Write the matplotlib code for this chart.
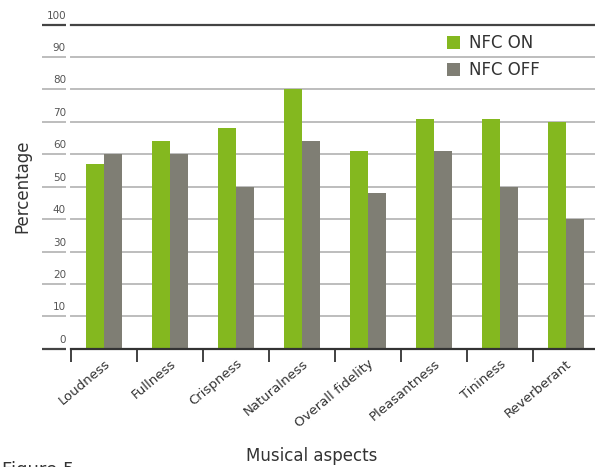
import matplotlib
matplotlib.use("Agg")
import matplotlib.pyplot as plt
import matplotlib.transforms as mtransforms
import numpy as np

categories = ["Loudness", "Fullness", "Crispness", "Naturalness", "Overall fidelity",
              "Pleasantness", "Tininess", "Reverberant"]
nfc_on = [57, 64, 68, 80, 61, 71, 71, 70]
nfc_off = [60, 60, 50, 64, 48, 61, 50, 40]
yticks = [0, 10, 20, 30, 40, 50, 60, 70, 80, 90, 100]

GREEN = "#84b81f"
GRAY = "#7f7e74"
FONT = "DejaVu Sans"

fig = plt.figure(figsize=(5.95, 4.67), dpi=100)
W, H = 595, 467
ax = fig.add_axes([71 / W, (H - 348.7) / H, 528 / W, (348.7 - 24.7) / H])

x = np.arange(len(categories))
bw = 0.28
ax.bar(x - bw / 2, nfc_on, width=bw, color=GREEN, label="NFC ON", zorder=2)
ax.bar(x + bw / 2, nfc_off, width=bw, color=GRAY, label="NFC OFF", zorder=2)

ax.set_xlim(-0.5, 7.5)
ax.set_ylim(0, 100)

for s in ["left", "right", "top"]:
    ax.spines[s].set_visible(False)
ax.spines["bottom"].set_color("#333333")
ax.spines["bottom"].set_linewidth(1.6)
ax.spines["bottom"].set_zorder(3)

# gridlines
for v in yticks[1:]:
    col = "#444444" if v == 100 else "#bdbdbd"
    ax.axhline(v, color=col, lw=1.6 if v == 100 else 1.4, zorder=1, clip_on=False)

# y stubs and labels
trans = mtransforms.blended_transform_factory(ax.transAxes, ax.transData)
off = mtransforms.offset_copy(trans, fig=fig, x=0, y=4, units="dots")
for v in yticks:
    col = "#444444" if v in (0, 100) else "#bdbdbd"
    ax.plot([-0.055, -0.0095], [v, v], transform=trans, color=col,
            lw=1.6 if v in (0, 100) else 1.4, clip_on=False, solid_capstyle="butt")
    ax.text(-0.0095, v, str(v), transform=off, ha="right", va="bottom",
            fontsize=7.5, color="#555555", family=FONT)
ax.set_yticks([])

# x ticks
ax.set_xticks(np.arange(len(categories) + 1) - 0.5, minor=True)
ax.tick_params(axis="x", which="minor", length=9, width=1.3, color="#333333", direction="out")
ax.set_xticks(x)
ax.set_xticklabels(categories, rotation=40, ha="right", va="top", rotation_mode="anchor",
                   fontsize=9.5, color="#333333", family=FONT)
ax.tick_params(axis="x", which="major", length=0, pad=6)

ax.set_xlabel("Musical aspects", fontsize=12, color="#333333", family=FONT)
ax.xaxis.label.set_va("center")
ax.xaxis.set_label_coords((312 - 71) / 528, -(456 - 348.7) / 324)
ax.set_ylabel("Percentage", fontsize=12, color="#333333", family=FONT)
ax.yaxis.label.set_va("center")
ax.yaxis.set_label_coords(-(71 - 22) / 528, (348.7 - 186) / 324)

leg = ax.legend(loc="upper left", bbox_to_anchor=((447 - 71) / 528, (348.7 - 34) / 324),
                frameon=False, handlelength=0.8, handleheight=0.8,
                handletextpad=0.5, labelspacing=0.55, borderpad=0, borderaxespad=0,
                prop={"family": FONT, "size": 12})
for t in leg.get_texts():
    t.set_color("#333333")

fig.text(2 / W, 1 - 461 / H, "Figure 5", fontsize=13, color="#333333", family=FONT,
         va="top", ha="left")

fig.savefig("out.png", dpi=100)
